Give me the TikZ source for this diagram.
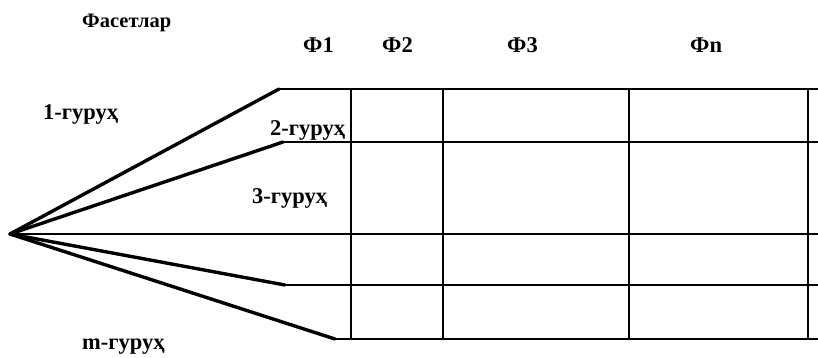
\documentclass[tikz,border=0pt]{standalone}
\usepackage{fontspec}
\setmainfont{Liberation Serif}
\usetikzlibrary{positioning}

\begin{document}
\begin{tikzpicture}[x=1pt,y=-1pt,
    grid/.style={line width=2.8pt},
    fan/.style={line width=3.4pt, line cap=round},
    lbl/.style={anchor=base west, inner sep=0pt, font=\fontsize{22.5}{25}\selectfont\bfseries}]
  \useasboundingbox (0,0) rectangle (818,357);
  % apex and the starts of the rows
  \coordinate (o) at (10,234);
  \coordinate (g1) at (279,89);
  \coordinate (g2) at (283,142);
  \coordinate (g4) at (285,285);
  \coordinate (gm) at (335,339);
  \coordinate (e1) at (818,89);
  \coordinate (e2) at (818,142);
  \coordinate (e3) at (818,234);
  \coordinate (e4) at (818,285);
  \coordinate (em) at (818,339);
  % rays of the fan
  \draw[fan] (o) -- (g1);
  \draw[fan] (o) -- (g2);
  \draw[fan] (o) -- (g4);
  \draw[fan] (o) -- (gm);
  % rows
  \draw[grid] (g1) -- (e1);
  \draw[grid] (g2) -- (e2);
  \draw[grid] (o) -- (e3);
  \draw[grid] (g4) -- (e4);
  \draw[grid] (gm) -- (em);
  % columns
  \foreach \x/\n in {351/1, 443/2, 629/3, 808/4} {
    \coordinate (t\n) at (\x,89);
    \coordinate (b\n) at (\x,339);
    \draw[grid] (t\n) -- (b\n);
  }
  % labels
  \node[lbl, font=\fontsize{20.5}{23}\selectfont\bfseries] (fas) at (82,27) {Фасетлар};
  \node[lbl] (f1) at (303,52) {Ф1};
  \node[lbl] (f2) at (382,52) {Ф2};
  \node[lbl] (f3) at (507,52) {Ф3};
  \node[lbl] (fn) at (690,52) {Фn};
  \node[lbl] (l1) at (43,119) {1-гуруҳ};
  \node[lbl] (l2) at (270,135) {2-гуруҳ};
  \node[lbl] (l3) at (252,203) {3-гуруҳ};
  \node[lbl] (lm) at (82,349) {m-гуруҳ};
\end{tikzpicture}
\end{document}
